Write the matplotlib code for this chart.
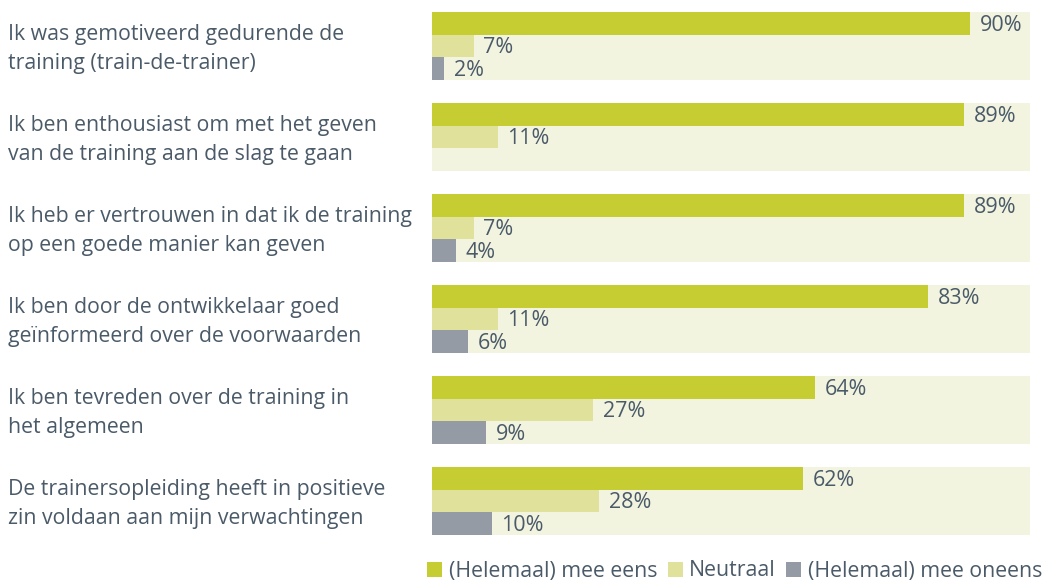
import numpy as np
import matplotlib.pyplot as plt
from matplotlib.patches import Patch

plt.rcParams['font.family'] = ['Open Sans', 'DejaVu Sans']

statements = [
    "Ik was gemotiveerd gedurende de\ntraining (train-de-trainer)",
    "Ik ben enthousiast om met het geven\nvan de training aan de slag te gaan",
    "Ik heb er vertrouwen in dat ik de training\nop een goede manier kan geven",
    "Ik ben door de ontwikkelaar goed\ngeïnformeerd over de voorwaarden",
    "Ik ben tevreden over de training in\nhet algemeen",
    "De trainersopleiding heeft in positieve\nzin voldaan aan mijn verwachtingen",
]
eens = [90, 89, 89, 83, 64, 62]
neutraal = [7, 11, 7, 11, 27, 28]
oneens = [2, 0, 4, 6, 9, 10]
series_names = ["(Helemaal) mee eens", "Neutraal", "(Helemaal) mee oneens"]

GREEN = '#c5cd32'
NEUTRAL = '#e0e29c'
GREY = '#959ba5'
PANEL = '#f2f4e0'
TEXT = '#4a5a68'

W, H = 1043, 581
fig = plt.figure(figsize=(W / 100, H / 100), dpi=100)
ax = fig.add_axes([432 / W, 1 - 535 / H, 598 / W, 523 / H])

panel_h = 68 / 91
bar_h = panel_h / 3
n = len(statements)
y0 = np.arange(n)

# light background panel per statement
ax.barh(y0 + panel_h / 2, 100, height=panel_h, color=PANEL, linewidth=0)
series = [eens, neutraal, oneens]
colors = [GREEN, NEUTRAL, GREY]
for k, (vals, col) in enumerate(zip(series, colors)):
    ys = y0 + bar_h * (k + 0.5)
    ax.barh(ys, vals, height=bar_h, color=col, linewidth=0)
    for y, v in zip(ys, vals):
        if v > 0:
            ax.text(v + 1.6, y + 0.02, f"{v}%", va='center', ha='left',
                    fontsize=15.5, color=TEXT)

ax.set_xlim(0, 100)
ax.set_ylim(n - 1 + panel_h, 0)
ax.axis('off')

for i, s in enumerate(statements):
    yc = 1 - (12 + 91 * i + 37) / H
    fig.text(8 / W, yc, s, ha='left', va='center', fontsize=15.3,
             color=TEXT, linespacing=1.45)

handles = [Patch(facecolor=c, edgecolor='none') for c in colors]
fig.legend(handles, series_names, loc='center right',
           bbox_to_anchor=(1042 / W, 1 - 571 / H), ncol=3, frameon=False,
           fontsize=15.3, handlelength=0.7, handleheight=0.7,
           handletextpad=0.3, columnspacing=0.5, labelcolor=TEXT,
           borderaxespad=0, borderpad=0)

fig.savefig('out.png', dpi=100)
